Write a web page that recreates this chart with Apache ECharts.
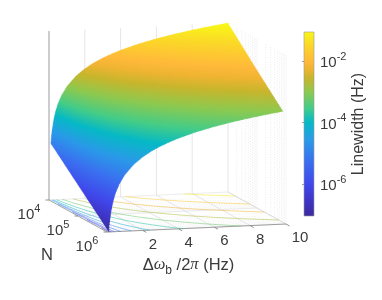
<!DOCTYPE html>
<html><head><meta charset="utf-8">
<style>html,body{margin:0;padding:0;background:#fff}#c{width:382px;height:300px}</style>
<script src="https://cdn.jsdelivr.net/npm/echarts@6/dist/echarts.min.js"></script>
</head><body><div id="c"></div>
<script>
const bandwidthHz = [0.1,0.15,0.2,0.3,0.4,0.5,0.7,1,1.5,2,2.5,3,3.5,4,5,6,7,8,9,10];
const logNValues = [4,5,6];
const linewidthN1e4 = [1e-5,2.25e-5,4e-5,9e-5,1.6e-4,2.5e-4,4.9e-4,1e-3,2.25e-3,4e-3,6.25e-3,9e-3,1.22e-2,1.6e-2,2.5e-2,3.6e-2,4.9e-2,6.4e-2,8.1e-2,1e-1];
const linewidthN1e5 = [1e-6,2.25e-6,4e-6,9e-6,1.6e-5,2.5e-5,4.9e-5,1e-4,2.25e-4,4e-4,6.25e-4,9e-4,1.22e-3,1.6e-3,2.5e-3,3.6e-3,4.9e-3,6.4e-3,8.1e-3,1e-2];
const linewidthN1e6 = [1e-7,2.25e-7,4e-7,9e-7,1.6e-6,2.5e-6,4.9e-6,1e-5,2.25e-5,4e-5,6.25e-5,9e-5,1.22e-4,1.6e-4,2.5e-4,3.6e-4,4.9e-4,6.4e-4,8.1e-4,1e-3];
const xTicks = [2,4,6,8,10];
const nTicks = [4,5,6];
const nMinor = [4.301,4.477,4.602,4.699,4.778,4.845,4.903,4.954,5,5.301,5.477,5.602,5.699,5.778,5.845,5.903,5.954,6];
const colorTicks = [-6,-4,-2];
const contourLevels = [-6.75,-6.25,-5.75,-5.25,-4.75,-4.25,-3.75,-3.25,-2.75,-2.25,-1.75,-1.25];
const colorMin = -7.05, colorMax = -1.05;
const colorStops = [
 [0,'#3a2a9c'],[0.08,'#3e34c4'],[0.168,'#4046ea'],[0.304,'#3a70f0'],[0.413,'#2a9ae8'],[0.511,'#06b9c6'],
 [0.587,'#44cc88'],[0.674,'#8ec94f'],[0.75,'#c9b52c'],[0.80,'#f0b432'],[0.84,'#ffb93a'],[0.93,'#fbd828'],[1,'#f9f618']];
const font = '"Liberation Sans", Arial, sans-serif';
const ink = '#3a3a3a';
const W = 382, H = 300, SS = 3;

function hex(c){return [1,3,5].map(i=>parseInt(c.substr(i,2),16));}
function rgbAt(v){
  const t=Math.max(0,Math.min(1,(v-colorMin)/(colorMax-colorMin)));
  for(let i=1;i<colorStops.length;i++){
    if(t<=colorStops[i][0]){
      const a=colorStops[i-1],b=colorStops[i],f=(t-a[0])/(b[0]-a[0]);
      const A=hex(a[1]),B=hex(b[1]);
      return A.map((k,j)=>Math.round(k+(B[j]-k)*f));
    }
  }
  return hex(colorStops[colorStops.length-1][1]);
}
function colorAt(v){return 'rgb('+rgbAt(v).join(',')+')';}
const gradStops = colorStops.map(s=>({offset:s[0],color:s[1]}));
const lut=[];
for(let i=0;i<=1024;i++) lut.push(rgbAt(colorMin+(colorMax-colorMin)*i/1024));

// oblique box: x and z come from the hidden axes of grid 0, depth from log N
function P(api,x,logN,z){
  const c=api.coord([x,z]), t=(logN-4)/2;
  return [c[0]+58*t-0.75*t*(x/10)*(z+7), c[1]+32*t-0.8*x];
}

const rows=[linewidthN1e4,linewidthN1e5,linewidthN1e6];
const triangles=[];
for(let r=0;r<logNValues.length-1;r++){
  for(let i=0;i<bandwidthHz.length-1;i++){
    const v=(a,b)=>[bandwidthHz[b],logNValues[a],Math.log10(rows[a][b])];
    triangles.push([...v(r,i),...v(r,i+1),...v(r+1,i+1)]);
    triangles.push([...v(r,i),...v(r+1,i+1),...v(r+1,i)]);
  }
}
function triPts(d){return [[d[0],d[1],d[2]],[d[3],d[4],d[5]],[d[6],d[7],d[8]]];}
function vals(api){return [0,1,2,3,4,5,6,7,8].map(k=>api.value(k));}

// surface: each triangle is shaded into one supersampled buffer, shown as a single image
let buffer=null, bufferCtx=null, bufferData=null;
function shade(p,v){
  const d=bufferData.data, BW=W*SS, BH=H*SS;
  const x0=p[0][0]*SS,y0=p[0][1]*SS,x1=p[1][0]*SS,y1=p[1][1]*SS,x2=p[2][0]*SS,y2=p[2][1]*SS;
  const den=(y1-y2)*(x0-x2)+(x2-x1)*(y0-y2);
  if(Math.abs(den)<1e-9) return;
  const minX=Math.max(0,Math.floor(Math.min(x0,x1,x2))),maxX=Math.min(BW-1,Math.ceil(Math.max(x0,x1,x2)));
  const minY=Math.max(0,Math.floor(Math.min(y0,y1,y2))),maxY=Math.min(BH-1,Math.ceil(Math.max(y0,y1,y2)));
  const eps=-0.004;
  for(let y=minY;y<=maxY;y++){
    for(let x=minX;x<=maxX;x++){
      const px=x+0.5,py=y+0.5;
      const a=((y1-y2)*(px-x2)+(x2-x1)*(py-y2))/den;
      const b=((y2-y0)*(px-x2)+(x0-x2)*(py-y2))/den;
      const c=1-a-b;
      if(a<eps||b<eps||c<eps) continue;
      const val=a*v[0]+b*v[1]+c*v[2];
      const idx=Math.max(0,Math.min(1024,Math.round((val-colorMin)/(colorMax-colorMin)*1024)));
      const col=lut[idx], o=(y*BW+x)*4;
      d[o]=col[0];d[o+1]=col[1];d[o+2]=col[2];d[o+3]=255;
    }
  }
}
function renderSurface(params,api){
  if(!buffer){
    buffer=document.createElement('canvas');buffer.width=W*SS;buffer.height=H*SS;
    bufferCtx=buffer.getContext('2d');bufferData=bufferCtx.createImageData(W*SS,H*SS);
  }
  const tp=triPts(vals(api));
  shade(tp.map(q=>P(api,q[0],q[1],q[2])),tp.map(q=>q[2]));
  if(params.dataIndex!==triangles.length-1) return null;
  bufferCtx.putImageData(bufferData,0,0);
  const out=document.createElement('canvas');out.width=W;out.height=H;
  const octx=out.getContext('2d');octx.imageSmoothingEnabled=true;octx.imageSmoothingQuality='high';
  octx.drawImage(buffer,0,0,W,H);
  return {type:'image',style:{image:out,x:0,y:0,width:W,height:H},silent:true};
}
function renderContours(params,api){
  const tp=triPts(vals(api)), children=[];
  contourLevels.forEach(L=>{
    const pts=[];
    for(let k=0;k<3;k++){
      const a=tp[k],b=tp[(k+1)%3];
      if((a[2]-L)*(b[2]-L)<0){
        const f=(L-a[2])/(b[2]-a[2]);
        pts.push(P(api,a[0]+(b[0]-a[0])*f,a[1]+(b[1]-a[1])*f,-7));
      }
    }
    if(pts.length===2) children.push({type:'line',shape:{x1:pts[0][0],y1:pts[0][1],x2:pts[1][0],y2:pts[1][1]},
      style:{stroke:colorAt(L),lineWidth:0.7,opacity:0.75},silent:true});
  });
  return {type:'group',children};
}
function seg(a,b,stroke,w,dash){
  return {type:'line',shape:{x1:a[0],y1:a[1],x2:b[0],y2:b[1]},style:{stroke,lineWidth:w,lineDash:dash||null},silent:true};
}
function renderFrame(params,api){
  const c=[];
  const g='#e6e6e6', dot='#e8e8e8';
  nMinor.forEach(n=>{
    c.push(seg(P0(api,10,n,-7),P0(api,10,n,-1),dot,0.8,[1,1.5]));
    c.push(seg(P0(api,0,n,-7),P0(api,10,n,-7),dot,0.6,[1,1.5]));
  });
  xTicks.forEach(x=>{
    c.push(seg(P0(api,x,4,-7),P0(api,x,4,-1),g,1));
    c.push(seg(P0(api,x,4,-7),P0(api,x,6,-7),'#e0e0e0',0.8));
  });
  nTicks.forEach(n=>c.push(seg(P0(api,0,n,-7),P0(api,10,n,-7),'#e4e4e4',0.7)));
  c.push(seg(P0(api,10,4,-7),P0(api,10,6,-7),'#dcdcdc',0.8));
  c.push(seg(P0(api,0,4,-7),P0(api,0,4,-1),'#9a9a9a',1));
  c.push(seg(P0(api,0,4,-7),P0(api,0,6,-7),'#8a8a8a',0.8));
  c.push(seg(P0(api,0,6,-7),P0(api,10,6,-7),'#8a8a8a',0.8));
  xTicks.forEach(x=>{const a=P0(api,x,6,-7);c.push(seg(a,[a[0]+3.5,a[1]+2],'#777',0.8));});
  nTicks.forEach(n=>{const a=P0(api,0,n,-7);c.push(seg(a,[a[0]-3.5,a[1]],'#777',0.8));});
  return {type:'group',children:c};
}
function P0(api,x,n,z){const c=api.coord([x,z]),t=(n-4)/2;return [c[0]+58*t,c[1]+32*t-0.8*x];}

const supRich={b:{fontSize:15,fontFamily:font,color:ink,verticalAlign:'bottom',lineHeight:19},
  s:{fontSize:11,fontFamily:font,color:ink,verticalAlign:'top',lineHeight:19}};
function txt(x,y,text,extra){
  return {type:'text',x,y,style:Object.assign({text,fontFamily:font,fontSize:15,fill:ink,align:'center',verticalAlign:'middle'},extra||{}),silent:true};
}
function renderLabels(params,api){
  const c=[];
  xTicks.forEach(x=>{const a=P0(api,x,6,-7);c.push(txt(a[0]+(x===10?14:10),a[1]+14,String(x)));});
  nTicks.forEach(n=>{const a=P0(api,0,n,-7);c.push(txt(a[0]-20,a[1]+13,'{b|10}{s|'+n+'}',{rich:supRich}));});
  c.push(txt(47,255,'N',{fontSize:16.5}));
  c.push(txt(188.5,265,'{n|\u0394}{i|\u03c9}{sub|b}{n| /2}{i|\u03c0}{n| (Hz)}',{rich:{
    n:{fontSize:16.5,fontFamily:font,color:ink,lineHeight:24,verticalAlign:'middle'},
    i:{fontSize:16.5,fontFamily:'"Liberation Serif",serif',fontStyle:'italic',color:ink,lineHeight:24,verticalAlign:'middle'},
    sub:{fontSize:12,fontFamily:font,color:ink,lineHeight:24,verticalAlign:'bottom'}}}));
  return {type:'group',children:c};
}
function renderBar(params,api){
  const a=api.coord([0,api.value(0)]), b=api.coord([1,api.value(1)]);
  return {type:'rect',shape:{x:a[0],y:b[1],width:b[0]-a[0],height:a[1]-b[1]},
    style:{fill:new echarts.graphic.LinearGradient(0,1,0,0,gradStops),stroke:'#9a9a9a',lineWidth:0.6},silent:true};
}
const chart=echarts.init(document.getElementById('c'),null,{renderer:'canvas'});
chart.setOption({
  animation:false,
  grid:[{left:49,top:31,width:179,height:169,containLabel:false},{left:304,top:32,width:10,height:184}],
  xAxis:[{type:'value',gridIndex:0,min:0,max:10,show:false},{type:'value',gridIndex:1,min:0,max:1,show:false}],
  yAxis:[{type:'value',gridIndex:0,min:-7,max:-1,show:false},
    {type:'value',gridIndex:1,min:colorMin,max:colorMax,position:'right',
     name:'Linewidth (Hz)',nameLocation:'middle',nameRotate:90,nameGap:36,
     nameTextStyle:{fontFamily:font,fontSize:16,color:ink},
     axisLine:{show:false},splitLine:{show:false},
     axisTick:{show:true,inside:true,length:2,customValues:colorTicks,lineStyle:{color:'#777',width:0.7}},
     axisLabel:{show:true,margin:6,customValues:colorTicks,align:'left',
       formatter:v=>'{b|10}{s|'+Math.round(v)+'}',rich:supRich}}],
  series:[
    {type:'custom',xAxisIndex:0,yAxisIndex:0,clip:false,silent:true,data:[[0]],renderItem:renderFrame,z:1},
    {type:'custom',xAxisIndex:0,yAxisIndex:0,clip:false,silent:true,data:triangles,renderItem:renderContours,z:2,encode:{x:0,y:2}},
    {type:'custom',xAxisIndex:0,yAxisIndex:0,clip:false,silent:true,data:triangles,renderItem:renderSurface,z:3,encode:{x:0,y:2}},
    {type:'custom',xAxisIndex:0,yAxisIndex:0,clip:false,silent:true,data:[[0]],renderItem:renderLabels,z:4},
    {type:'custom',xAxisIndex:1,yAxisIndex:1,clip:false,silent:true,data:[[colorMin,colorMax]],renderItem:renderBar,z:3,encode:{y:[0,1]}}
  ]
});
</script></body></html>
